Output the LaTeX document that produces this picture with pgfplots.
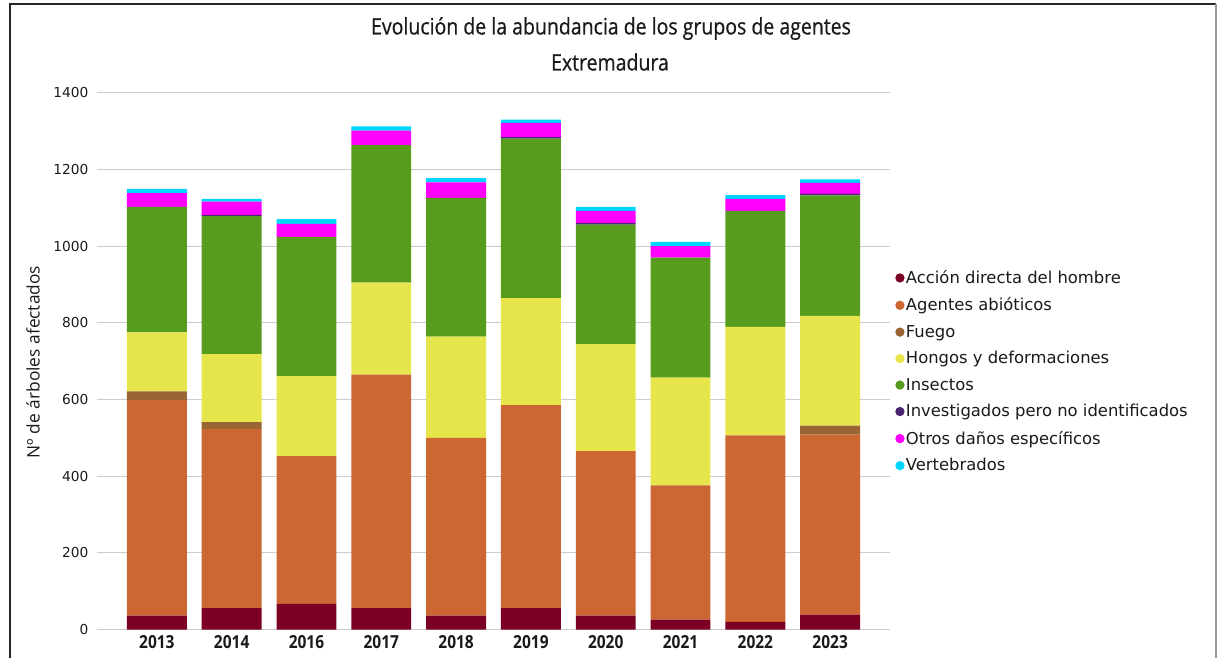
\documentclass[border=0pt]{standalone}
\usepackage{pgfplots}
\pgfplotsset{compat=1.18}
\usepackage{pgfplotstable}
\usepackage{fontspec}
\setmainfont{DejaVu Sans}
\newfontfamily\condfont[FakeStretch=0.86]{Open Sans}
\newfontfamily\titlefont[FakeStretch=0.86,FakeBold=0.6]{Open Sans}
\newfontfamily\opensans{Open Sans}
\definecolor{cAccion}{HTML}{7B0024}
\definecolor{cAbio}{HTML}{CC6633}
\definecolor{cFuego}{HTML}{996633}
\definecolor{cHongos}{HTML}{E6E64C}
\definecolor{cIns}{HTML}{589C1E}
\definecolor{cInv}{HTML}{4B2470}
\definecolor{cOtros}{HTML}{FF00FF}
\definecolor{cVert}{HTML}{00D5FF}
\definecolor{gridc}{HTML}{CCCCCC}
\definecolor{txt}{HTML}{1A1A1A}
\pgfplotstableread{
x A Ab F H I Inv O V
0 36 562 23 154 327 0 36 11
1 56 467 18 177 360 3 35 7
2 67 385 0 209 363 0 34 12
3 56 609 0 240 358 0 38 11
4 36 464 0 264 362 0 40 11
5 56 529 0 279 416 4 37 9
6 36 429 0 279 312 4 32 10
7 26 350 0 281 313 0 30 11
8 20 486 0 283 303 0 31 10
9 39 469 24 286 314 4 29 9
}\data
\begin{document}
\begin{tikzpicture}[x=0.75pt,y=0.75pt]
\path[use as bounding box] (0,0) rectangle (1219,658);
% frame
\draw[line width=1.2pt,black!85] (10,0) -- (10,654) -- (1216,654);
\draw[line width=1.2pt,black!40] (1216,654) -- (1216,0);
% titles
\node[font=\titlefont\fontsize{17}{20}\selectfont,text=txt] at (611,629.5) {Evolución de la abundancia de los grupos de agentes};
\node[font=\titlefont\fontsize{17}{20}\selectfont,text=txt] at (610,596) {Extremadura};
\node[font=\opensans\fontsize{13}{15}\selectfont,text=txt,rotate=90] at (33,296) {Nº de árboles afectados};
\begin{axis}[
  at={(72.75pt,21.375pt)}, anchor=south west,
  scale only axis, width=594.75pt, height=402.6pt,
  ymin=0, ymax=1400, xmin=-0.8, xmax=9.8,
  ybar stacked, bar width=0.8,
  ytick={0,200,...,1400},
  xmajorgrids=false, ymajorgrids=true,
  grid style={draw=gridc, line width=0.75pt},
  axis x line*=bottom, axis y line*=left,
  y axis line style={draw=none},
  x axis line style={draw=gridc, line width=0.75pt, -},
  xtick=data, xticklabels={2013,2014,2016,2017,2018,2019,2020,2021,2022,2023},
  major tick length=0pt,
  xticklabel style={font=\condfont\bfseries\fontsize{13.5}{15}\selectfont, text=txt, yshift=-1pt},
  yticklabel style={font=\fontsize{10.3}{12}\selectfont, text=txt, xshift=-3pt},
  yticklabel={\pgfmathprintnumber[fixed,1000 sep={}]{\tick}},
  /pgf/number format/assume math mode=true,
  legend cell align=left,
  legend style={at={(1.0063,0.672)}, anchor=north west, draw=none, fill=none,
    font=\fontsize{12.3}{14}\selectfont, text=txt, row sep=7.2pt,
    inner sep=0pt, nodes={inner sep=1pt}},
  legend image code/.code={\fill[#1] (3.5pt,0pt) circle (3.5pt);},
  every axis plot/.append style={draw=none},
]
\addplot[fill=cAccion] table[x=x,y=A]{\data};
\addplot[fill=cAbio] table[x=x,y=Ab]{\data};
\addplot[fill=cFuego] table[x=x,y=F]{\data};
\addplot[fill=cHongos] table[x=x,y=H]{\data};
\addplot[fill=cIns] table[x=x,y=I]{\data};
\addplot[fill=cInv] table[x=x,y=Inv]{\data};
\addplot[fill=cOtros] table[x=x,y=O]{\data};
\addplot[fill=cVert] table[x=x,y=V]{\data};
\legend{Acción directa del hombre,Agentes abióticos,Fuego,Hongos y deformaciones,Insectos,Investigados pero no identificados,Otros daños específicos,Vertebrados}
\end{axis}
\end{tikzpicture}
\end{document}
